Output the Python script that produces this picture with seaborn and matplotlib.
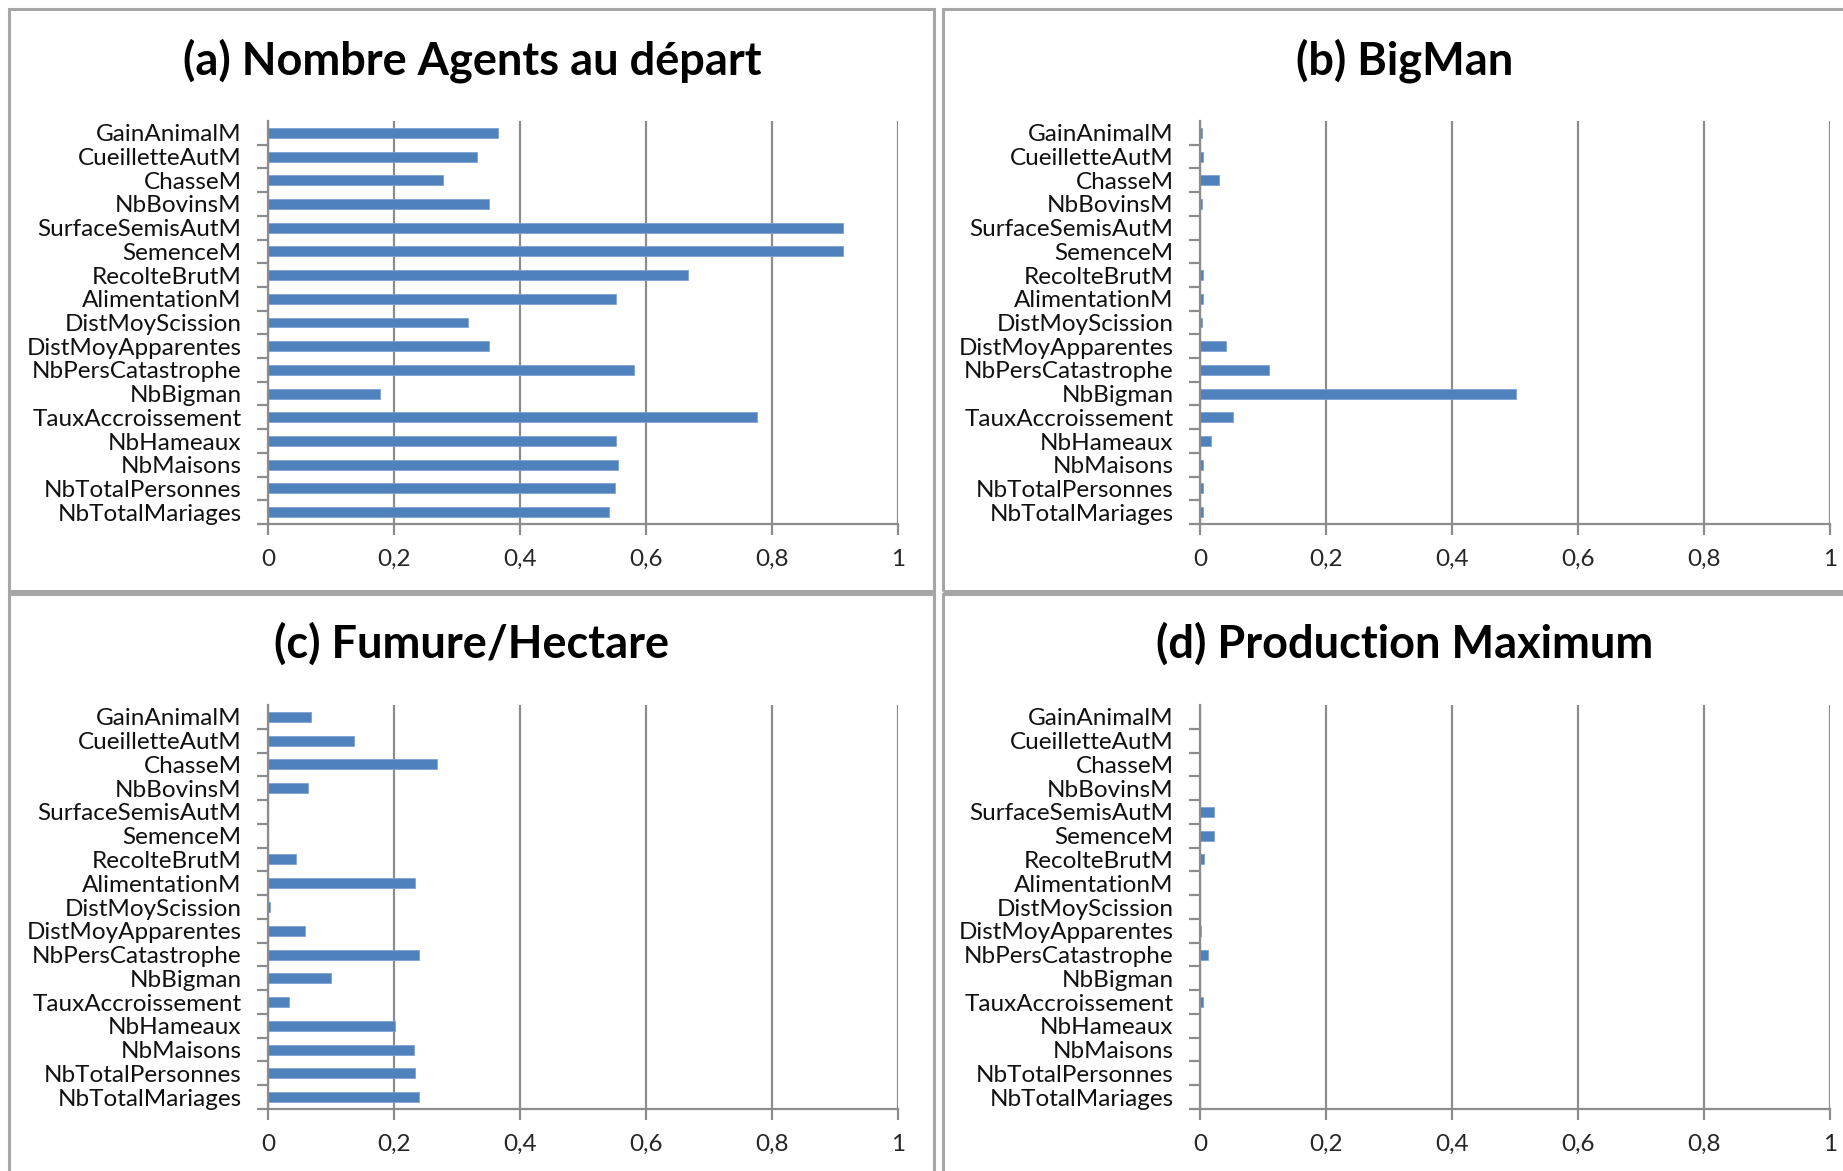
import matplotlib as mpl

mpl.use("Agg")

import matplotlib.pyplot as plt
import matplotlib.patches as mpatches
from matplotlib.ticker import FuncFormatter, MultipleLocator
import numpy as np
import pandas as pd
import seaborn as sns

sns.set_theme(style="white")
plt.rcParams["font.family"] = ["Lato", "DejaVu Sans"]

CATEGORIES = [
    "GainAnimalM", "CueilletteAutM", "ChasseM", "NbBovinsM", "SurfaceSemisAutM",
    "SemenceM", "RecolteBrutM", "AlimentationM", "DistMoyScission", "DistMoyApparentes",
    "NbPersCatastrophe", "NbBigman", "TauxAccroissement", "NbHameaux", "NbMaisons",
    "NbTotalPersonnes", "NbTotalMariages",
]

nombre_agents = [0.365, 0.331, 0.277, 0.350, 0.913, 0.913, 0.667, 0.553, 0.317, 0.350,
                 0.581, 0.178, 0.776, 0.552, 0.555, 0.551, 0.542]
bigman = [0.003, 0.004, 0.030, 0.003, 0.0, 0.0, 0.005, 0.004, 0.003, 0.041,
          0.109, 0.501, 0.053, 0.017, 0.004, 0.004, 0.004]
fumure = [0.068, 0.136, 0.269, 0.063, 0.0, 0.0, 0.045, 0.233, 0.003, 0.059,
          0.239, 0.100, 0.034, 0.202, 0.231, 0.234, 0.240]
production = [0.0, 0.0, 0.0, 0.0, 0.022, 0.022, 0.007, 0.0, 0.0, 0.002,
              0.012, 0.0, 0.005, 0.0, 0.0, 0.0, 0.0]

TITLES = [
    "(a) Nombre Agents au départ",
    "(b) BigMan",
    "(c) Fumure/Hectare",
    "(d) Production Maximum",
]
SERIES = [nombre_agents, bigman, fumure, production]

W, H = 1843, 1171
BAR_COLOR = "#4F81BD"
GRID_COLOR = "#8c8c8c"
FRAME_COLOR = "#a6a6a6"

# panel frames (pixels, top-left origin)
frames = [(9, 9, 934, 591), (943, 9, 1866, 591), (9, 594, 934, 1194), (943, 594, 1866, 1194)]
# axes boxes (pixels): left, top, right, bottom
ax_boxes = [(268, 121, 898, 524), (1200, 121, 1830, 524),
            (268, 705, 898, 1109), (1200, 705, 1830, 1109)]
title_pos = [(472, 61), (1405, 61), (472, 644), (1405, 644)]

fig = plt.figure(figsize=(W / 100, H / 100), dpi=100)

for x0, y0, x1, y1 in frames:
    fig.patches.append(mpatches.Rectangle(
        (x0 / W, 1 - y1 / H), (x1 - x0) / W, (y1 - y0) / H,
        transform=fig.transFigure, fill=False, edgecolor=FRAME_COLOR, linewidth=2.2,
        clip_on=False))

comma = FuncFormatter(lambda v, _: f"{v:g}".replace(".", ","))

for i, values in enumerate(SERIES):
    l, t, r, b = ax_boxes[i]
    ax = fig.add_axes([l / W, 1 - b / H, (r - l) / W, (b - t) / H])
    df = pd.DataFrame({"variable": CATEGORIES, "valeur": values})
    sns.barplot(data=df, x="valeur", y="variable", orient="h", color=BAR_COLOR,
                width=0.42, saturation=1, edgecolor="#7ea3d4", linewidth=0.6, ax=ax)
    ax.set_xlim(0, 1)
    ax.set_ylim(len(CATEGORIES) - 0.5, -0.5)
    ax.xaxis.set_major_locator(MultipleLocator(0.2))
    ax.xaxis.set_major_formatter(comma)
    ax.grid(axis="x", color=GRID_COLOR, linewidth=1.6)
    ax.set_axisbelow(True)
    for side in ["top", "right"]:
        ax.spines[side].set_visible(False)
    for side in ["left", "bottom"]:
        ax.spines[side].set_color(GRID_COLOR)
        ax.spines[side].set_linewidth(1.6)
    ax.set_xlabel("")
    ax.set_ylabel("")
    ax.tick_params(axis="x", which="major", direction="out", length=8, width=1.6,
                   color=GRID_COLOR, labelsize=17.5, pad=10, bottom=True)
    # category tick marks sit between the bars (Excel style)
    ax.set_yticks(np.arange(len(CATEGORIES)) + 0.5, minor=True)
    ax.tick_params(axis="y", which="minor", direction="out", length=8, width=1.6,
                   color=GRID_COLOR, left=True)
    ax.tick_params(axis="y", which="major", length=0, labelsize=17.5, pad=19)
    for lab in ax.get_yticklabels():
        lab.set_color("#111111")
    fig.text(title_pos[i][0] / W, 1 - title_pos[i][1] / H, TITLES[i], ha="center",
             va="center", fontsize=32.5, fontweight="bold", color="black")

fig.savefig("out.png", dpi=100, facecolor="white")
